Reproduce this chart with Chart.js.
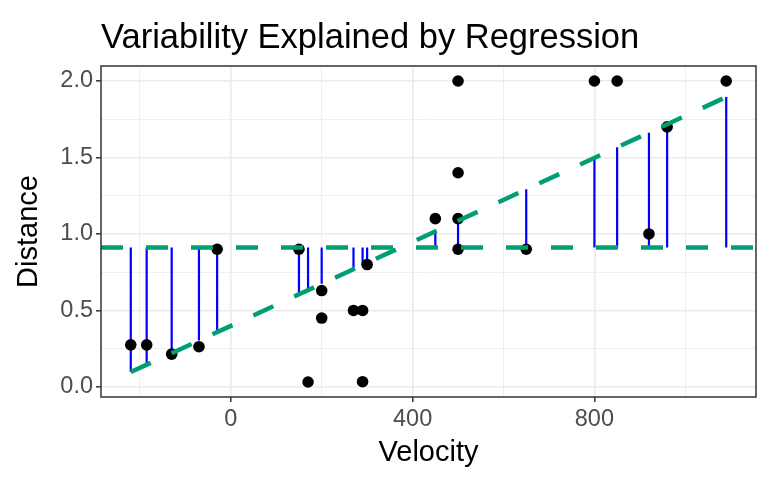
<!DOCTYPE html>
<html>
<head>
<meta charset="utf-8">
<script src="https://cdn.jsdelivr.net/npm/chart.js@4"></script>
<style>
  html, body { margin: 0; background: #fff; }
</style>
</head>
<body>
<canvas id="grafico" width="769" height="482"></canvas>
<script>
// Hubble data: velocity (km/s) and distance (Mpc)
const velocity = [170, 290, -130, -70, -185, -220, 200, 290, 270, 200, 300, -30,
                  650, 150, 500, 920, 450, 500, 500, 960, 500, 850, 800, 1090]
const distance = [0.032, 0.034, 0.214, 0.263, 0.275, 0.275, 0.45, 0.5, 0.5, 0.63, 0.8, 0.9,
                  0.9, 0.9, 0.9, 1.0, 1.1, 1.1, 1.4, 1.7, 2.0, 2.0, 2.0, 2.0]

const xTicks = [-200, 0, 200, 400, 600, 800, 1000]
const xLabels = [0, 400, 800]
const yTicks = [0, 0.25, 0.5, 0.75, 1, 1.25, 1.5, 1.75, 2]
const yLabels = [0, 0.5, 1, 1.5, 2]
const xRange = [-285.5, 1155.5]
const yRange = [-0.066, 2.098]

// least squares fit distance ~ velocity (what the picture shows)
const n = velocity.length
const meanV = velocity.reduce((a, b) => a + b, 0) / n
const meanD = distance.reduce((a, b) => a + b, 0) / n
let sxy = 0, sxx = 0
velocity.forEach((v, i) => { sxy += (v - meanV) * (distance[i] - meanD); sxx += (v - meanV) ** 2 })
const slope = sxy / sxx
const intercept = meanD - slope * meanV
const fitted = velocity.map(v => intercept + slope * v)

const points = velocity.map((v, i) => ({ x: v, y: distance[i] }))
const segments = []
velocity.forEach((v, i) => {
  segments.push({ x: v, y: fitted[i] }, { x: v, y: meanD }, { x: v, y: null })
})
const vMin = Math.min(...velocity), vMax = Math.max(...velocity)
const regLine = [{ x: vMin, y: intercept + slope * vMin }, { x: vMax, y: intercept + slope * vMax }]
const meanLine = [{ x: xRange[0], y: meanD }, { x: xRange[1], y: meanD }]

Chart.defaults.font.family = "'Liberation Sans', Arial, sans-serif"

const green = '#009E73'

const panel = {
  id: 'panel',
  afterDraw(chart) {
    const { ctx, chartArea: a } = chart
    ctx.save()
    ctx.strokeStyle = '#333333'
    ctx.lineWidth = 1.5
    ctx.strokeRect(a.left, a.top, a.right - a.left, a.bottom - a.top)
    ctx.fillStyle = '#000'
    ctx.font = "34.5px 'Liberation Sans', Arial, sans-serif"
    ctx.textBaseline = 'alphabetic'
    ctx.fillText('Variability Explained by Regression', 101, 48)
    ctx.restore()
  }
}

const isMajorX = v => xLabels.includes(v)
const isMajorY = v => yLabels.some(l => Math.abs(l - v) < 1e-9)

// first dataset is drawn on top
const config = {
  type: 'scatter',
  data: {
    datasets: [
      {
        type: 'line', data: regLine, borderColor: green, borderWidth: 4.5,
        borderDash: [22, 23], pointRadius: 0, fill: false
      },
      {
        type: 'line', data: meanLine, borderColor: green, borderWidth: 4.5,
        borderDash: [22, 23], pointRadius: 0, fill: false
      },
      {
        data: points, backgroundColor: '#000', borderColor: '#000',
        pointRadius: 5.8, borderWidth: 0
      },
      {
        type: 'line', data: segments, borderColor: '#0000FF', borderWidth: 2.2,
        pointRadius: 0, spanGaps: false, fill: false
      }
    ]
  },
  options: {
    responsive: false,
    animation: false,
    layout: { padding: { left: 12, right: 13, top: 66, bottom: 12 } },
    plugins: { legend: { display: false }, tooltip: { enabled: false } },
    scales: {
      x: {
        type: 'linear', min: xRange[0], max: xRange[1],
        afterBuildTicks: s => { s.ticks = xTicks.map(v => ({ value: v })) },
        afterFit: s => { s.height = 470 - 397 },
        ticks: {
          font: { size: 23.5 }, color: '#4D4D4D', padding: 3, maxRotation: 0,
          autoSkip: false,
          callback: v => isMajorX(v) ? String(v) : ''
        },
        grid: {
          color: '#EBEBEB',
          lineWidth: c => isMajorX(c.tick.value) ? 1.6 : 0.8,
          tickColor: c => isMajorX(c.tick.value) ? '#333333' : 'rgba(0,0,0,0)',
          tickLength: 5, tickWidth: 1.5
        },
        border: { display: false },
        title: { display: true, text: 'Velocity', color: '#000', font: { size: 29 }, padding: 0 }
      },
      y: {
        type: 'linear', min: yRange[0], max: yRange[1],
        afterBuildTicks: s => { s.ticks = yTicks.map(v => ({ value: v })) },
        afterFit: s => { s.width = 101 - 12 },
        ticks: {
          font: { size: 23.5 }, color: '#4D4D4D', padding: 3, autoSkip: false,
          callback: v => isMajorY(v) ? v.toFixed(1) : ''
        },
        grid: {
          color: '#EBEBEB',
          lineWidth: c => isMajorY(c.tick.value) ? 1.6 : 0.8,
          tickColor: c => isMajorY(c.tick.value) ? '#333333' : 'rgba(0,0,0,0)',
          tickLength: 5, tickWidth: 1.5
        },
        border: { display: false },
        title: { display: true, text: 'Distance', color: '#000', font: { size: 29 }, padding: 0 }
      }
    }
  },
  plugins: [panel]
}

const graph = new Chart(document.getElementById('grafico'), config)
</script>
</body>
</html>
